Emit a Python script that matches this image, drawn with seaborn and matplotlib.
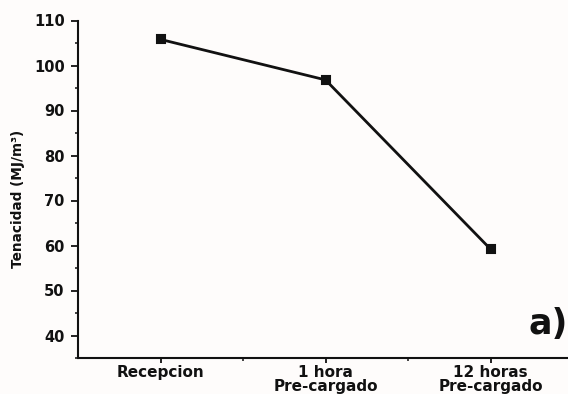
import matplotlib
matplotlib.use("Agg")
import matplotlib.pyplot as plt
from matplotlib.ticker import MultipleLocator, FixedLocator
import seaborn as sns
import pandas as pd

# Toughness after each loading condition
conditions = ["Recepcion", "1 hora\nPre-cargado", "12 horas\nPre-cargado"]
tenacidad = [105.8, 96.8, 59.2]
y_ticks = [40, 50, 60, 70, 80, 90, 100, 110]

df = pd.DataFrame({"condicion": conditions, "tenacidad": tenacidad})

sns.set_theme(style="ticks")
plt.rcParams["font.family"] = ["DejaVu Sans"]
plt.rcParams["font.weight"] = "bold"

bg = "#fefcfb"
ink = "#111111"

fig = plt.figure(figsize=(5.68, 3.94), dpi=100, facecolor=bg)
ax = fig.add_axes([78 / 568, 36 / 394, 495 / 568, 337.5 / 394], facecolor=bg)

sns.pointplot(data=df, x="condicion", y="tenacidad", color=ink, markers="s",
              linestyles="-", markersize=6, linewidth=2.0, ax=ax,
              errorbar=None)
for ln in ax.lines:
    ln.set_markeredgecolor(ink)

ax.set_xlim(-0.5, 2.5)
ax.set_ylim(35, 110)
ax.yaxis.set_major_locator(FixedLocator(y_ticks))
ax.yaxis.set_minor_locator(MultipleLocator(5))
ax.xaxis.set_minor_locator(FixedLocator([0.5, 1.5]))

ax.set_xlabel("")
ax.set_ylabel("")

for side in ("top", "right"):
    ax.spines[side].set_visible(False)
for side in ("left", "bottom"):
    ax.spines[side].set_linewidth(1.5)
    ax.spines[side].set_color(ink)

ax.tick_params(axis="y", which="major", direction="out", length=5, width=1.3,
               pad=4.5, labelsize=10.5, colors=ink)
ax.tick_params(axis="y", which="minor", direction="out", length=2.5, width=1.1,
               colors=ink)
ax.tick_params(axis="x", which="major", direction="out", length=3.5, width=1.3,
               pad=1.5, labelsize=11, colors=ink)
ax.tick_params(axis="x", which="minor", direction="out", length=2.5, width=1.1,
               colors=ink)
for lab in ax.get_xticklabels():
    lab.set_fontweight("bold")
    lab.set_linespacing(0.95)
for lab in ax.get_yticklabels():
    lab.set_fontweight("bold")

fig.text(18 / 568, 1 - 199 / 394, "Tenacidad (MJ/m³)", rotation=90,
         ha="center", va="center", fontsize=9.8, fontweight="bold", color=ink)
fig.text(528 / 568, 1 - 334 / 394, "a)", ha="left", va="baseline",
         fontsize=25, fontweight="bold", color=ink)

fig.savefig("out.png", dpi=100, facecolor=bg)
